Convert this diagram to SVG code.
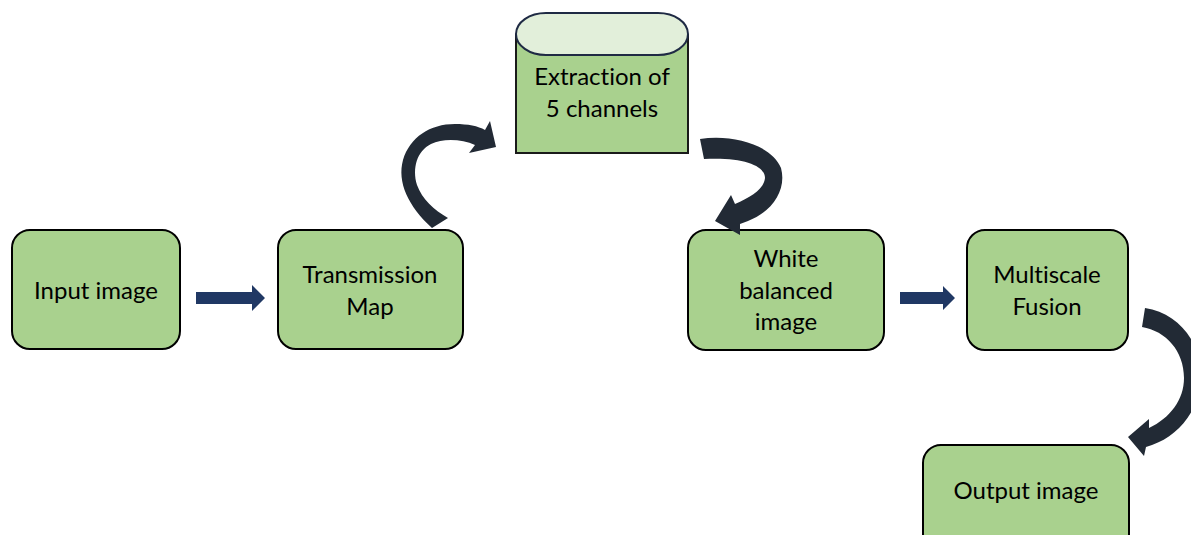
<svg xmlns="http://www.w3.org/2000/svg" width="1191" height="535" viewBox="0 0 1191 535">
<style>
.box{fill:#a9d18e;stroke:#000;stroke-width:2}
.t{font-family:Lato,"Open Sans",sans-serif;font-size:24px;fill:#000;text-anchor:middle;font-variant-ligatures:none}
.sa{fill:#203864}
.ca{fill:#222a35}
</style>
<rect width="1191" height="535" fill="#fff"/>
<g id="input">
<rect class="box" x="12" y="230" width="168" height="119" rx="18"/>
<text class="t" x="96" y="299">Input image</text>
</g>
<g id="transmission">
<rect class="box" x="278" y="230" width="185" height="119" rx="18"/>
<text class="t" x="370" y="283">Transmission</text>
<text class="t" x="370" y="315">Map</text>
</g>
<g id="extraction">
<path d="M516,34 L516,153 L688,153 L688,34" fill="#a9d18e" stroke="#1a1a1a" stroke-width="2"/>
<rect x="516" y="13" width="172" height="42" rx="30" ry="21" fill="#e2efda" stroke="#1f2a44" stroke-width="2"/>
<text class="t" x="602" y="85">Extraction of</text>
<text class="t" x="602" y="117">5 channels</text>
</g>
<g id="white">
<rect class="box" x="688" y="230" width="196" height="120" rx="18"/>
<text class="t" x="786" y="267">White</text>
<text class="t" x="786" y="299">balanced</text>
<text class="t" x="786" y="330">image</text>
</g>
<g id="fusion">
<rect class="box" x="967" y="230" width="161" height="120" rx="18"/>
<text class="t" x="1047" y="283">Multiscale</text>
<text class="t" x="1047" y="315">Fusion</text>
</g>
<g id="output">
<rect class="box" x="923" y="445" width="206" height="110" rx="18"/>
<text class="t" x="1026" y="499">Output image</text>
</g>
<g id="connectors">
<path class="sa" d="M196,292 L252,292 L252,285 L265,298 L252,311 L252,304 L196,304 Z"/>
<path class="sa" d="M900,292 L943,292 L943,286 L955,298 L943,310 L943,304 L900,304 Z"/>
<path class="ca" d="M432,228 C408,206 397,182 403,160 C410,137 430,124 455,124 C468,124 478,126 485,130 L490,121 L496,147 L469,153 L475,145 C462,139 443,138 431,144 C417,151 412,168 417,185 C422,199 434,210 448,218 Z"/>
<path class="ca" d="M700,139 C731,134 771,144 781,168 C787,190 772,212 748,221 L740,224 L740,235 L715,221 L731,195 L735,204 C751,197 764,189 765,178 C765,165 742,157 704,159 Z"/>
<path class="ca" d="M1145,308 C1178,313 1201,342 1201,375 C1201,408 1180,435 1152,445 L1146,447 L1144,456 L1128,437 L1149,419 L1149,428 C1170,418 1184,400 1184,378 C1184,351 1166,331 1142,327 Z"/>
</g>
</svg>
